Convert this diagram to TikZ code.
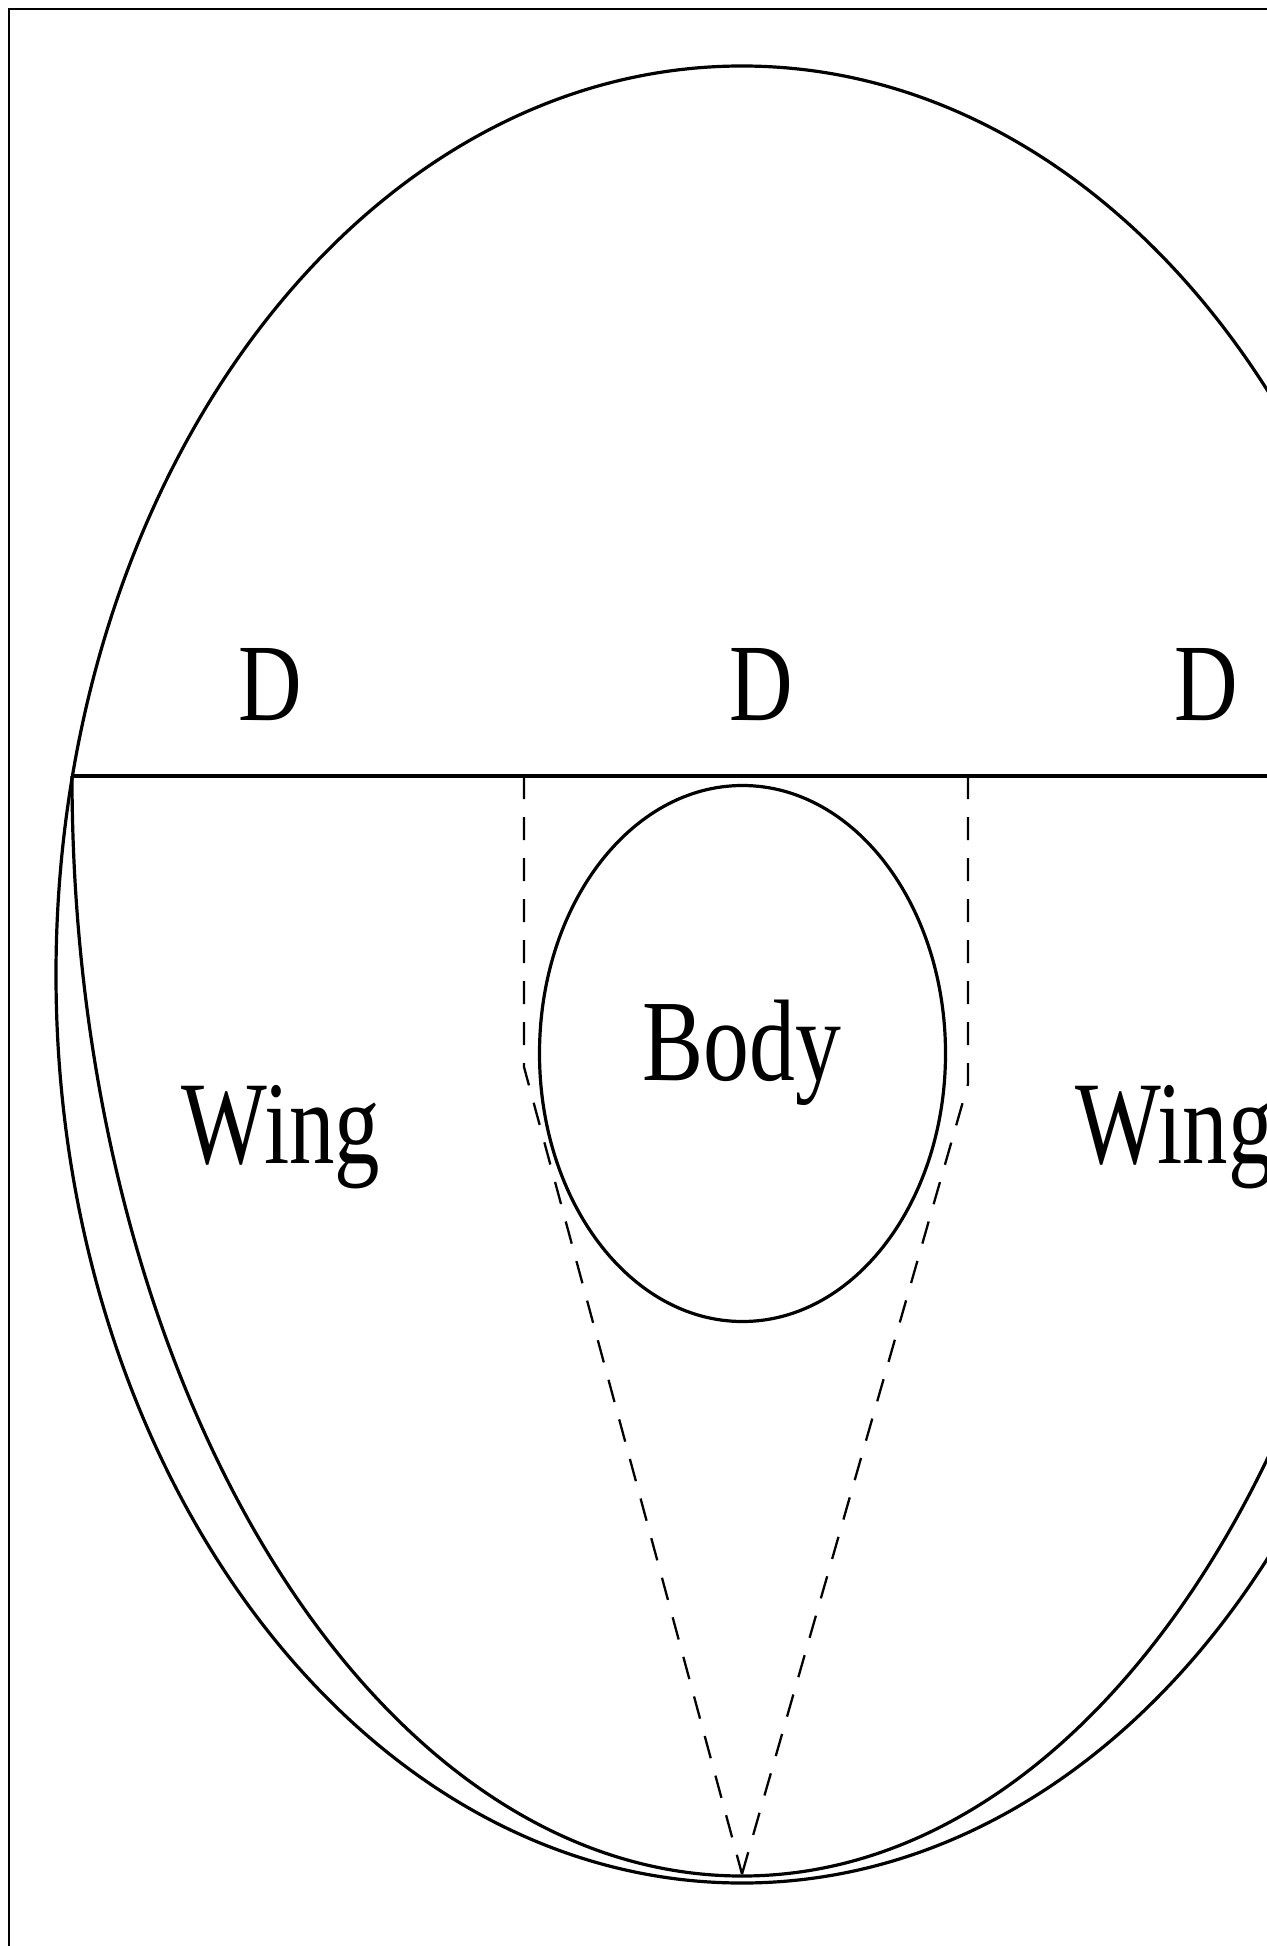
\documentclass[tikz,border=0pt]{standalone}
\usepackage{fontspec}
\setmainfont{Liberation Serif}
\usetikzlibrary{shapes.geometric}
\begin{document}
\begin{tikzpicture}[x=0.5pt,y=-0.5pt,
  thickline/.style={line width=1.6pt},
  dashline/.style={line width=1.15pt, dash pattern=on 11.5pt off 9pt},
  lbl/.style={anchor=base, inner sep=0pt, font=\fontsize{55}{60}\selectfont}]
\useasboundingbox (0,0) rectangle (1267,1946);
\clip (0,0) rectangle (1267,1946);
% frame
\coordinate (fbl) at (9,1946);
\coordinate (ftl) at (9,9);
\coordinate (ftr) at (1267,9);
\draw[line width=1.4pt] (fbl) -- (ftl) -- (ftr);
% outer ellipse
\coordinate (outerC) at (742,974.5);
\draw[thickline] (outerC) ellipse [x radius=343pt, y radius=454.25pt];
% horizontal line
\coordinate (Lstart) at (72,776);
\coordinate (Lend) at (1267,776);
\draw[thickline] (Lstart) -- (Lend);
% inner lower half ellipse
\draw[thickline] (Lstart) arc[start angle=180, end angle=360, x radius=335pt, y radius=550pt];
% body ellipse
\node[ellipse, draw, thickline, minimum width=203pt, minimum height=268pt, inner sep=0pt] (body) at (742.5,1053.5) {};
% dashed lines
\coordinate (tip) at (742,1874);
\coordinate (lt) at (524,776);
\coordinate (lk) at (524,1067);
\coordinate (rt) at (968,776);
\coordinate (rk) at (968,1084);
\draw[dashline] (lt) -- (lk) -- (tip);
\draw[dashline] (rt) -- (rk) -- (tip);
% labels
\node[lbl] (d1) at (270,720) {\scalebox{0.8}[1]{D}};
\node[lbl] (d2) at (761,720) {\scalebox{0.8}[1]{D}};
\node[lbl] (d3) at (1206,720) {\scalebox{0.8}[1]{D}};
\node[lbl, font=\fontsize{58}{60}\selectfont] (bodylbl) at (742,1080) {\scalebox{0.79}[1]{Body}};
\node[lbl, font=\fontsize{59}{60}\selectfont] (wingL) at (281,1163) {\scalebox{0.77}[1]{Wing}};
\node[lbl, font=\fontsize{59}{60}\selectfont, anchor=base west] (wingR) at (1075,1163) {\scalebox{0.77}[1]{Wing}};
\end{tikzpicture}
\end{document}
